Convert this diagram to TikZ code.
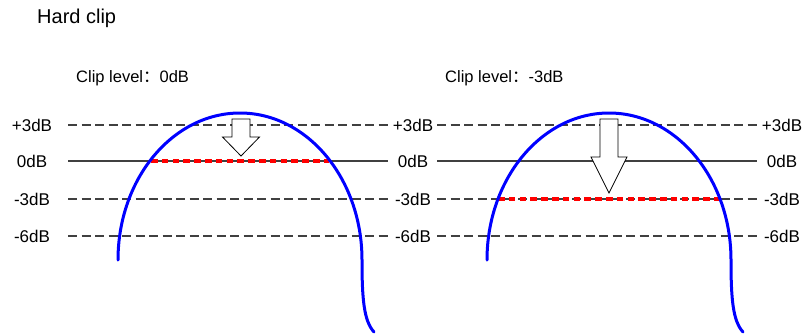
\documentclass[tikz,border=0pt]{standalone}
\usepackage{fontspec}
\setmainfont{Liberation Sans}
\newfontfamily\cjk{Noto Sans CJK SC}
\begin{document}
\begin{tikzpicture}[x=1pt,y=-1pt,
  lvl/.style={draw=black!75, line width=1.2pt},
  dsh/.style={lvl, dash pattern=on 9pt off 4.5pt},
  lab/.style={font=\fontsize{17}{20}\selectfont, inner sep=0pt, anchor=base},
  ttl/.style={font=\fontsize{16.5}{20}\selectfont, inner sep=0pt, anchor=base west},
  wave/.style={draw=blue, line width=3pt, line cap=round},
  cliplvl/.style={draw=red, line width=3.2pt, dash pattern=on 6.5pt off 4.3pt},
  downarrow/.style={draw=black, fill=white, line width=0.8pt, line join=miter}]
\useasboundingbox (0,0) rectangle (805,335);

% titles
\node[font=\fontsize{20}{24}\selectfont, inner sep=0pt, anchor=base west] (title) at (37,23) {Hard clip};
\node[ttl] (cl1) at (76,82.5) {Clip level{\cjk ：}0dB};
\node[ttl] (cl2) at (445,82.5) {Clip level{\cjk ：}-3dB};

% level lines and labels
\foreach \yy/\tt/\st/\nm in {125/+3dB/dsh/a, 161/0dB/lvl/b, 199/-3dB/dsh/c, 236/-6dB/dsh/d}{
  \node[lab] (L\nm) at (32,\yy+6.7) {\tt};
  \node[lab] (M\nm) at (413,\yy+6.7) {\tt};
  \node[lab] (R\nm) at (782,\yy+6.7) {\tt};
  \coordinate (p1\nm) at (68,\yy);
  \coordinate (p2\nm) at (388,\yy);
  \coordinate (p3\nm) at (437,\yy);
  \coordinate (p4\nm) at (757,\yy);
  \draw[\st] (p1\nm) -- (p2\nm);
  \draw[\st] (p3\nm) -- (p4\nm);
}

% clip levels (red)
\coordinate (r1a) at (151,161); \coordinate (r1b) at (329,161);
\coordinate (r2a) at (498,199); \coordinate (r2b) at (720,199);
\draw[cliplvl] (r1a) -- (r1b);
\draw[cliplvl] (r2a) -- (r2b);

% waves
\foreach \dx/\nm in {0/1, 369/2}{
  \begin{scope}[xshift=\dx pt]
    \draw[wave] (118,260) .. controls (118,178.8) and (172.6,113) .. (240,113)
      .. controls (307.4,113) and (362,178.8) .. (362,260)
      .. controls (362,300) and (364,321) .. (374,332);
  \end{scope}
}

% arrows
\draw[downarrow] (232,119) -- (250,119) -- (250,137) -- (259.5,137) -- (241,156)
  -- (222.5,137) -- (232,137) -- cycle;
\draw[downarrow] (600,119) -- (618,119) -- (618,157) -- (627,157) -- (609,193)
  -- (591,157) -- (600,157) -- cycle;
\end{tikzpicture}
\end{document}
